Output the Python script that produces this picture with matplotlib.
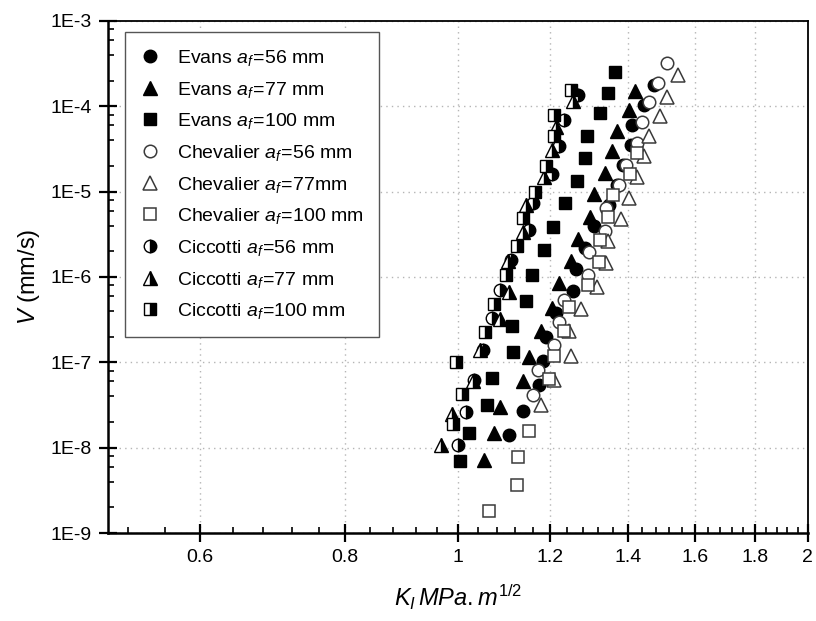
import matplotlib
matplotlib.use("Agg")
import matplotlib.pyplot as plt
import numpy as np
from matplotlib.ticker import FixedLocator, FixedFormatter, NullFormatter

plt.rcParams['font.family'] = ['Liberation Sans', 'DejaVu Sans']
plt.rcParams['mathtext.fontset'] = 'custom'
plt.rcParams['mathtext.rm'] = 'Liberation Sans'
plt.rcParams['mathtext.it'] = 'Liberation Sans:italic'
plt.rcParams['mathtext.bf'] = 'Liberation Sans:bold'

# --- Evans model ---
k_evans_56 = [1.106, 1.138, 1.175, 1.184, 1.19, 1.214, 1.255, 1.264, 1.285, 1.31, 1.349,
              1.37, 1.386, 1.409, 1.413, 1.447, 1.476]
v_evans_56 = [1.4e-8, 2.7e-8, 5.4e-8, 1.04e-7, 2.0e-7, 3.8e-7, 6.8e-7, 1.25e-6, 2.2e-6, 4.0e-6,
              7.0e-6, 1.2e-5, 2.06e-5, 3.5e-5, 6.0e-5, 1.04e-4, 1.8e-4]

k_evans_77 = [1.052, 1.073, 1.087, 1.138, 1.152, 1.179, 1.206, 1.222, 1.251, 1.268, 1.298,
              1.309, 1.337, 1.357, 1.37, 1.404, 1.421]
v_evans_77 = [7.2e-9, 1.48e-8, 3.0e-8, 6.0e-8, 1.16e-7, 2.3e-7, 4.3e-7, 8.4e-7, 1.55e-6, 2.8e-6,
              5.1e-6, 9.4e-6, 1.65e-5, 3.0e-5, 5.2e-5, 9.0e-5, 1.5e-4]

k_evans_100 = [1.004, 1.023, 1.059, 1.07, 1.116, 1.114, 1.145, 1.158, 1.185, 1.208, 1.237,
               1.265, 1.287, 1.291, 1.325, 1.345, 1.366]
v_evans_100 = [7.0e-9, 1.5e-8, 3.2e-8, 6.6e-8, 1.33e-7, 2.7e-7, 5.3e-7, 1.05e-6, 2.1e-6, 3.9e-6,
               7.3e-6, 1.35e-5, 2.5e-5, 4.5e-5, 8.3e-5, 1.45e-4, 2.5e-4]

# --- Chevalier model ---
k_chev_56 = [1.16, 1.171, 1.21, 1.222, 1.233, 1.293, 1.296, 1.339, 1.341, 1.375, 1.395,
             1.425, 1.441, 1.459, 1.485, 1.512]
v_chev_56 = [4.1e-8, 8.1e-8, 1.6e-7, 3.0e-7, 5.4e-7, 1.05e-6, 1.95e-6, 3.5e-6, 6.4e-6, 1.2e-5,
             2.06e-5, 3.7e-5, 6.6e-5, 1.13e-4, 1.86e-4, 3.2e-4]

k_chev_77 = [1.18, 1.21, 1.251, 1.245, 1.276, 1.316, 1.341, 1.345, 1.38, 1.402, 1.427,
             1.447, 1.461, 1.492, 1.512, 1.545]
v_chev_77 = [3.2e-8, 6.2e-8, 1.2e-7, 2.3e-7, 4.2e-7, 7.7e-7, 1.45e-6, 2.65e-6, 4.8e-6, 8.4e-6,
             1.5e-5, 2.6e-5, 4.5e-5, 7.7e-5, 1.3e-4, 2.3e-4]

k_chev_100 = [1.063, 1.124, 1.126, 1.151, 1.198, 1.21, 1.235, 1.245, 1.293, 1.322, 1.325,
              1.345, 1.359, 1.406, 1.427]
v_chev_100 = [1.8e-9, 3.7e-9, 7.8e-9, 1.58e-8, 6.4e-8, 1.2e-7, 2.3e-7, 4.4e-7, 8.0e-7, 1.5e-6,
              2.75e-6, 5.0e-6, 9.1e-6, 1.6e-5, 2.85e-5]

# --- Ciccotti model ---
k_cicc_56 = [1.0, 1.016, 1.033, 1.05, 1.069, 1.086, 1.11, 1.152, 1.16, 1.206, 1.222, 1.235, 1.268]
v_cicc_56 = [1.07e-8, 2.6e-8, 6.2e-8, 1.4e-7, 3.3e-7, 7.0e-7, 1.6e-6, 3.6e-6, 7.3e-6, 1.6e-5,
             3.4e-5, 7.0e-5, 1.35e-4]

k_cicc_77 = [0.967, 0.988, 1.03, 1.045, 1.087, 1.107, 1.104, 1.137, 1.144, 1.187, 1.205, 1.214, 1.255]
v_cicc_77 = [1.07e-8, 2.5e-8, 6.0e-8, 1.4e-7, 3.2e-7, 6.7e-7, 1.55e-6, 3.4e-6, 7.0e-6, 1.5e-5,
             3.1e-5, 5.8e-5, 1.15e-4]

k_cicc_100 = [0.99, 1.009, 0.996, 1.055, 1.073, 1.10, 1.125, 1.137, 1.164, 1.191, 1.21, 1.21, 1.251]
v_cicc_100 = [1.9e-8, 4.3e-8, 1.0e-7, 2.25e-7, 4.8e-7, 1.05e-6, 2.3e-6, 4.9e-6, 1.0e-5, 2.0e-5,
              4.5e-5, 7.9e-5, 1.55e-4]

x_major = [0.6, 0.8, 1, 1.2, 1.4, 1.6, 1.8, 2]
x_major_labels = ['0.6', '0.8', '1', '1.2', '1.4', '1.6', '1.8', '2']
y_major = [1e-9, 1e-8, 1e-7, 1e-6, 1e-5, 1e-4, 1e-3]
y_major_labels = ['1E-9', '1E-8', '1E-7', '1E-6', '1E-5', '1E-4', '1E-3']

fig = plt.figure(figsize=(8.16, 6.21), dpi=100)
ax = fig.add_axes([0.1324, 0.1417, 0.8576, 0.8245])

filled = dict(color='black', markeredgecolor='black', markeredgewidth=1.0)
hollow = dict(markerfacecolor='white', markeredgecolor='#3a3a3a', markeredgewidth=1.1)
half = dict(fillstyle='right', markerfacecolor='black', markerfacecoloralt='white',
            markeredgecolor='black', markeredgewidth=1.0)


def af_label(model, size, unit=' mm'):
    # italic a_f=<size>, upright model name and unit
    return model + r' $a_f\!=\!\mathit{' + size + '}$' + unit


ax.plot(k_evans_56, v_evans_56, 'o', ms=9, label=af_label('Evans', '56'), **filled)
ax.plot(k_evans_77, v_evans_77, '^', ms=9.5, label=af_label('Evans', '77'), **filled)
ax.plot(k_evans_100, v_evans_100, 's', ms=8, label=af_label('Evans', '100'), **filled)
ax.plot(k_chev_56, v_chev_56, 'o', ms=9, label=af_label('Chevalier', '56'), **hollow)
ax.plot(k_chev_77, v_chev_77, '^', ms=9.5, label=af_label('Chevalier', '77', 'mm'), **hollow)
ax.plot(k_chev_100, v_chev_100, 's', ms=8, label=af_label('Chevalier', '100'), **hollow)
ax.plot(k_cicc_56, v_cicc_56, 'o', ms=9, label=af_label('Ciccotti', '56'), **half)
ax.plot(k_cicc_77, v_cicc_77, '^', ms=9.5, label=af_label('Ciccotti', '77'), **half)
ax.plot(k_cicc_100, v_cicc_100, 's', ms=8, label=af_label('Ciccotti', '100'), **half)

ax.set_xscale('log')
ax.set_yscale('log')
ax.set_xlim(0.5, 2.0)
ax.set_ylim(1e-9, 1e-3)

ax.xaxis.set_major_locator(FixedLocator(x_major))
ax.xaxis.set_major_formatter(FixedFormatter(x_major_labels))
x_minor = [v for v in np.round(np.arange(0.52, 2.0, 0.04), 2) if v not in x_major]
ax.xaxis.set_minor_locator(FixedLocator(x_minor))
ax.xaxis.set_minor_formatter(NullFormatter())

ax.yaxis.set_major_locator(FixedLocator(y_major))
ax.yaxis.set_major_formatter(FixedFormatter(y_major_labels))
y_minor = [m * 10.0 ** e for e in range(-9, -3) for m in (2, 4, 6, 8)]
ax.yaxis.set_minor_locator(FixedLocator(y_minor))
ax.yaxis.set_minor_formatter(NullFormatter())

ax.tick_params(which='major', direction='inout', length=13, width=1.6, labelsize=14, pad=5)
ax.tick_params(which='minor', direction='in', length=4, width=1.2)
ax.tick_params(top=False, right=False)

for side in ['left', 'bottom']:
    ax.spines[side].set_linewidth(1.8)
for side in ['top', 'right']:
    ax.spines[side].set_linewidth(1.3)

ax.grid(True, which='major', linestyle=(0, (1, 3)), color='#b5b5b5', linewidth=1.0)
ax.set_axisbelow(True)

ax.set_xlabel(r'$K_I\,\mathit{MPa.m}^{\mathit{1/2}}$', fontsize=17, labelpad=12)
ax.set_ylabel(r'$V$ (mm/s)', fontsize=17, labelpad=6)

leg = ax.legend(loc='upper left', bbox_to_anchor=(0.153, 0.948), bbox_transform=fig.transFigure,
                borderaxespad=0, fontsize=14, frameon=True, fancybox=False, framealpha=1,
                edgecolor='#555555', handlelength=1.0, handletextpad=0.9, labelspacing=0.6,
                borderpad=0.8, numpoints=1)
leg.get_frame().set_linewidth(1.0)

fig.savefig('out.png', dpi=100)
